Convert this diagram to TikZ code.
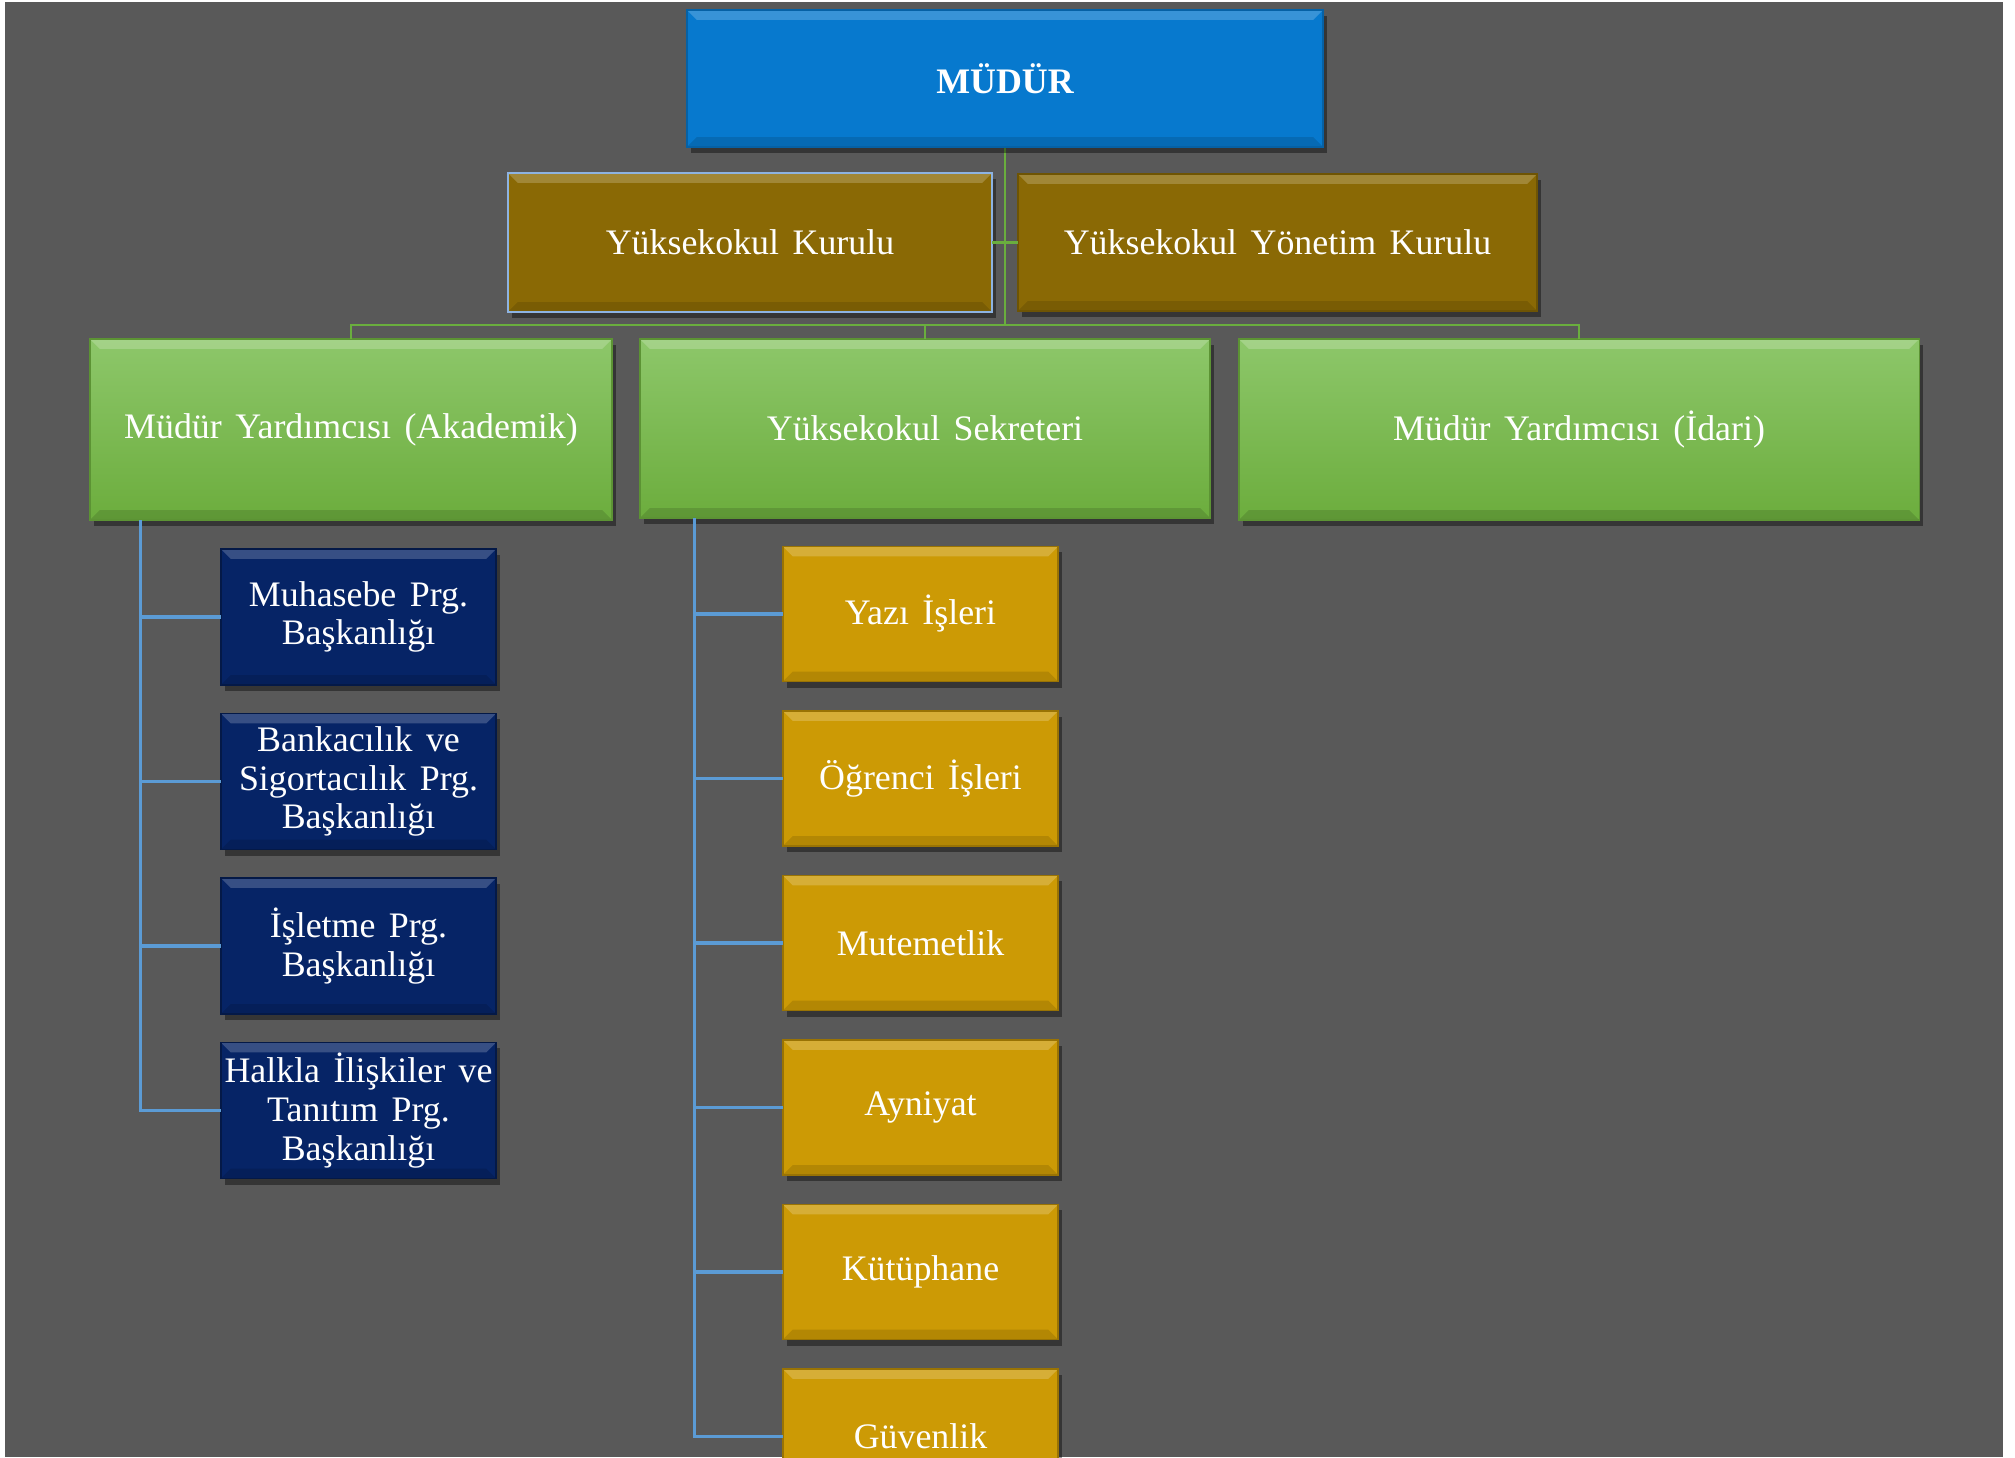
\documentclass[tikz,border=0pt]{standalone}
\usepackage{fontspec}
\setmainfont{Liberation Serif}[WordSpace=1.5]
\usetikzlibrary{shadows}
\definecolor{bg}{HTML}{595959}
\definecolor{chief}{HTML}{0779CE}
\definecolor{board}{HTML}{8A6905}
\definecolor{grtop}{HTML}{8DC76A}
\definecolor{grbot}{HTML}{6CAD3D}
\definecolor{navy}{HTML}{062466}
\definecolor{gold}{HTML}{CC9A05}
\definecolor{linkgr}{HTML}{6AAE3E}
\definecolor{linkbl}{HTML}{5B9BD5}
\definecolor{rim}{HTML}{8DB3E2}

\begin{document}
\begin{tikzpicture}[x=0.01cm,y=-0.01cm,
  unit/.style={rectangle,inner sep=0pt,outer sep=0pt,text=white,align=center,
    font=\fontsize{10.2}{11}\selectfont,
    drop shadow={shadow xshift=0.04cm,shadow yshift=-0.06cm,opacity=0.4,fill=black},
    path picture={
      \fill[white,opacity=0.2] (path picture bounding box.north west) -- (path picture bounding box.north east)
        -- ([shift={(-0.1cm,-0.1cm)}]path picture bounding box.north east) -- ([shift={(0.1cm,-0.1cm)}]path picture bounding box.north west) -- cycle;
      \fill[black,opacity=0.12] (path picture bounding box.south west) -- (path picture bounding box.south east)
        -- ([shift={(-0.1cm,0.1cm)}]path picture bounding box.south east) -- ([shift={(0.1cm,0.1cm)}]path picture bounding box.south west) -- cycle;}},
  chiefbox/.style={unit,fill=chief,draw=chief!80!black,line width=0.4pt,font=\fontsize{10.2}{11}\selectfont\bfseries},
  boardbox/.style={unit,fill=board,draw=board!80!black,line width=0.4pt},
  deputybox/.style={unit,top color=grtop,bottom color=grbot,draw=grbot!85!black,line width=0.4pt},
  progbox/.style={unit,fill=navy,draw=navy!70!black,line width=0.4pt,minimum width=2.75cm,minimum height=1.36cm},
  officebox/.style={unit,fill=gold,draw=gold!75!black,line width=0.4pt,minimum width=2.75cm,minimum height=1.35cm},
  grlink/.style={draw=linkgr,line width=0.8pt},
  bllink/.style={draw=linkbl,line width=0.9pt}]
\useasboundingbox (0,0) rectangle (2015,1457);
\clip (0,0) rectangle (2015,1457);
\fill[white] (0,0) rectangle (2015,1457);
\fill[bg] (5,2) rectangle (2003,1457);

\coordinate (bus) at (0,325);
\draw[grlink] (1005,147) -- (1005,325);

\node[chiefbox,minimum width=6.36cm,minimum height=1.37cm] (mudur) at (1005,78.5) {MÜDÜR};
\node[boardbox,draw=rim,line width=0.7pt,minimum width=4.84cm,minimum height=1.39cm] (kurul) at (750,242.5) {Yüksekokul Kurulu};
\node[boardbox,minimum width=5.19cm,minimum height=1.37cm] (yonetim) at (1277.5,242.5) {Yüksekokul Yönetim Kurulu};
\node[deputybox,minimum width=5.22cm,minimum height=1.81cm] (akademik) at (351,429.5) {Müdür Yardımcısı (Akademik)};
\node[deputybox,minimum width=5.70cm,minimum height=1.79cm] (sekreter) at (925,428.5) {Yüksekokul Sekreteri};
\node[deputybox,minimum width=6.80cm,minimum height=1.81cm] (idari) at (1579,429.5) {Müdür Yardımcısı (İdari)};

\draw[grlink] (kurul.east) -- (yonetim.west);
\draw[grlink] (akademik.north) -- (akademik.north |- bus) -- (idari.north |- bus) -- (idari.north);
\draw[grlink] (sekreter.north) -- (sekreter.north |- bus);

\node[progbox] (p1) at (358.5,617) {Muhasebe Prg.\\Başkanlığı};
\node[progbox] (p2) at (358.5,781.5) {Bankacılık ve\\Sigortacılık Prg.\\Başkanlığı};
\node[progbox] (p3) at (358.5,946) {İşletme Prg.\\Başkanlığı};
\node[progbox] (p4) at (358.5,1110.5) {Halkla İlişkiler ve\\Tanıtım Prg.\\Başkanlığı};

\node[officebox] (o1) at (920.5,614) {Yazı İşleri};
\node[officebox] (o2) at (920.5,778.5) {Öğrenci İşleri};
\node[officebox] (o3) at (920.5,943) {Mutemetlik};
\node[officebox] (o4) at (920.5,1107.5) {Ayniyat};
\node[officebox] (o5) at (920.5,1272) {Kütüphane};
\node[officebox] (o6) at (920.5,1436.5) {Güvenlik};

\coordinate (akl) at ([xshift=0.51cm]akademik.south west);
\coordinate (sekl) at ([xshift=0.55cm]sekreter.south west);
\draw[bllink] (akl) |- (p4.west);
\foreach \p in {p1,p2,p3}
  \draw[bllink] (akl |- \p.west) -- (\p.west);
\draw[bllink] (sekl) |- (o6.west);
\foreach \o in {o1,o2,o3,o4,o5}
  \draw[bllink] (sekl |- \o.west) -- (\o.west);
\end{tikzpicture}
\end{document}
